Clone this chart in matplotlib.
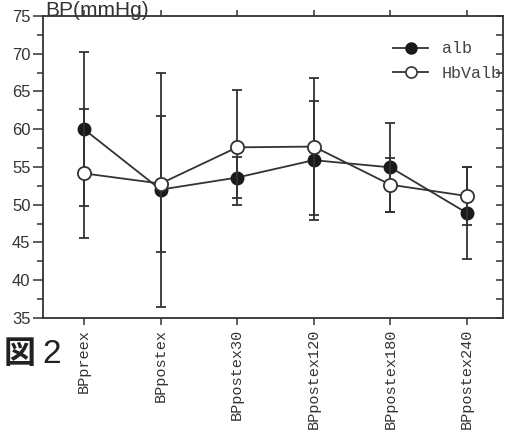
import numpy as np
import matplotlib.pyplot as plt
from matplotlib.ticker import MultipleLocator
from matplotlib.lines import Line2D

categories = ['BPpreex', 'BPpostex', 'BPpostex30', 'BPpostex120', 'BPpostex180', 'BPpostex240']
alb = [60.0, 52.0, 53.6, 55.9, 54.95, 48.9]
alb_err = [10.2, 15.5, 2.7, 7.9, 5.85, 6.1]
hbv = [54.15, 52.8, 57.6, 57.7, 52.65, 51.15]
hbv_err = [8.5, 9.0, 7.6, 9.1, 3.6, 3.8]

dark = '#333333'
x = np.arange(len(categories))

fig = plt.figure(figsize=(5.06, 4.32), dpi=100)
ax = fig.add_axes([0.085, 0.264, 0.909, 0.699])

ax.errorbar(x, alb, yerr=alb_err, color=dark, lw=1.3, elinewidth=1.3, capsize=3.5,
            capthick=1.3, marker='o', ms=9, mfc='#1a1a1a', mec='#1a1a1a', zorder=3)
ax.errorbar(x, hbv, yerr=hbv_err, color=dark, lw=1.3, elinewidth=1.3, capsize=3.5,
            capthick=1.3, marker='o', ms=9.5, mfc='white', mec=dark, mew=1.3, zorder=4)

ax.set_xlim(-0.535, 5.47)
ax.set_ylim(35, 75)

ax.set_xticks(x)
ax.set_xticklabels(categories, rotation=90, family='Liberation Mono', fontsize=11, color=dark)
ax.yaxis.set_major_locator(MultipleLocator(5))
ax.yaxis.set_minor_locator(MultipleLocator(2.5))
for lab in ax.get_yticklabels():
    lab.set_family('Liberation Sans')
    lab.set_fontsize(12)
    lab.set_color(dark)
ax.tick_params(axis='y', which='major', length=7, width=1.1, color=dark, pad=2)
ax.tick_params(axis='y', which='minor', length=4, width=1.1, color=dark)
ax.tick_params(axis='x', length=5, width=1.1, color=dark, pad=3)

for s in ax.spines.values():
    s.set_color(dark)
    s.set_linewidth(1.3)

top = ax.secondary_xaxis('top')
top.set_xticks(x)
top.tick_params(length=4, width=1.1, color=dark, labeltop=False)
top.spines['top'].set_visible(False)

right = ax.secondary_yaxis('right')
right.yaxis.set_major_locator(MultipleLocator(2.5))
right.tick_params(direction='in', length=5, width=1.1, color=dark, labelright=False)
right.spines['right'].set_visible(False)

handles = [
    Line2D([], [], color=dark, lw=1.3, marker='o', ms=8, mfc='#1a1a1a', mec='#1a1a1a'),
    Line2D([], [], color=dark, lw=1.3, marker='o', ms=8, mfc='white', mec=dark, mew=1.2),
]
leg = ax.legend(handles, ['alb', 'HbValb'], loc='upper right', frameon=False,
                prop={'family': 'Liberation Mono', 'size': 12}, handlelength=2.1,
                handletextpad=0.8, labelspacing=0.55, borderaxespad=0.0,
                bbox_to_anchor=(1.012, 0.938))
for t in leg.get_texts():
    t.set_color('#444444')

fig.text(0.089, 1 - 15.5 / 432, 'BP(mmHg)', fontsize=15, family='Liberation Sans',
         color=dark, ha='left', va='baseline')
fig.text(0.008, 1 - 363 / 432, '図', fontsize=23, family=['Noto Sans CJK JP', 'DejaVu Sans'],
         weight='bold', color='#222222', ha='left', va='baseline')
fig.text(0.083, 1 - 363 / 432, '2', fontsize=24, family='Liberation Sans',
         color='#222222', ha='left', va='baseline')

fig.savefig('out.png', dpi=100)
